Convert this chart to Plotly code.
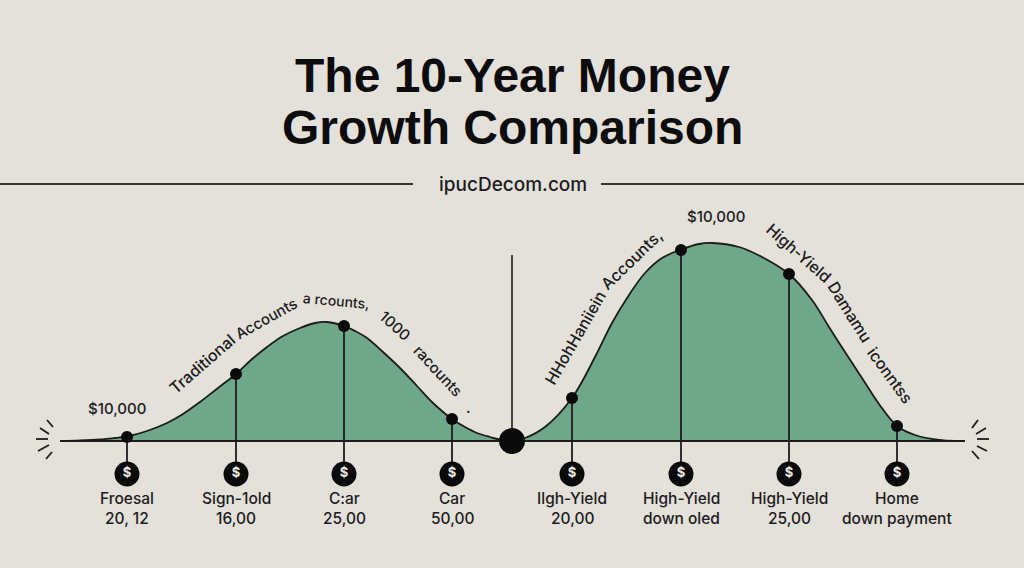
import plotly.graph_objects as go

# ---- data (x in chart units, value = height above the baseline) ----
left_x = [60, 80, 100, 115, 127, 147, 167, 183, 200, 218, 236, 251, 267, 283, 300, 315, 327, 344, 355, 367, 383, 400,
          417, 433, 452, 465, 477, 490, 500, 512]
left_y = [0, 0.5, 1.5, 3, 4.5, 10, 18, 27, 39, 53, 67, 81, 94, 105, 113, 118, 119, 115, 110, 103, 89, 73,
          55, 38, 22, 14, 8, 4, 1.5, 0]
right_x = [512, 525, 545, 572, 595, 612, 629, 645, 662, 680, 699, 712, 739, 762, 789, 812, 829, 845, 862, 879, 897,
           915, 939, 955]
right_y = [0, 3, 14, 43, 84, 118, 146, 168, 183, 191, 197, 198, 194, 184, 167, 141, 114, 89, 63, 37, 15,
           6, 1, 0]

marker_x = [127, 236, 344, 452, 572, 681, 789, 897]
marker_y = [4, 67, 115, 22, 43, 191, 167, 15]
label_top = ["Froesal", "Sign-1old", "C:ar", "Car", "Ilgh-Yield", "High-Yield", "High-Yield", "Home"]
label_bottom = ["20, 12", "16,00", "25,00", "50,00", "20,00", "down oled", "25,00", "down payment"]

title_lines = ["The 10-Year Money", "Growth Comparison"]
subtitle = "ipucDecom.com"
callouts = ["$10,000", "$10,000"]
arc_words = ["Traditional", "Accounts", "a rcounts,", "1000", "racounts", ".",
             "HHohHaniiein", "Accounts,", "High-Yield", "Damamu", "iconntss"]

# ---- layout constants ----
BG, GREEN, INK = "#e4e0da", "#6fa78b", "#1c1c1c"
W, H, BASE = 1024, 568, 441
FONT = "Inter"
TITLE_FONT = "Liberation Sans"
py = lambda p: BASE - p  # page row -> chart units

fig = go.Figure()
for xs, ys in ((left_x, left_y), (right_x, right_y)):
    fig.add_trace(go.Scatter(x=xs, y=ys, mode="lines", fill="tozeroy", fillcolor=GREEN,
                             line=dict(color=INK, width=1.8, shape="spline", smoothing=1.0)))

fig.add_trace(go.Scatter(x=[60, 965], y=[0, 0], mode="lines", line=dict(color=INK, width=2)))

drop_x, drop_y = [], []
for mx, my in zip(marker_x, marker_y):
    drop_x += [mx, mx, None]
    drop_y += [my, py(474), None]
fig.add_trace(go.Scatter(x=drop_x, y=drop_y, mode="lines", line=dict(color=INK, width=1.8)))

fig.add_trace(go.Scatter(x=[512, 512], y=[py(255), 0], mode="lines", line=dict(color=INK, width=1.6)))
fig.add_trace(go.Scatter(x=marker_x, y=marker_y, mode="markers", marker=dict(color="#0a0a0a", size=12)))
fig.add_trace(go.Scatter(x=[512], y=[0], mode="markers", marker=dict(color="#0a0a0a", size=26)))
fig.add_trace(go.Scatter(x=marker_x, y=[py(474)] * len(marker_x), mode="markers+text", text=["$"] * len(marker_x),
                         textposition="middle center",
                         textfont=dict(color="#ece9e4", size=13, family=FONT, weight="bold"),
                         marker=dict(color="#0a0a0a", size=25)))

# rules beside the subtitle
for xs in ((0, 413), (601, 1024)):
    fig.add_trace(go.Scatter(x=list(xs), y=[py(184)] * 2, mode="lines", line=dict(color="#333333", width=2)))

# sparks at both ends
spark_l = [((47, 420), (53, 427)), ((40, 428), (49, 434)), ((36, 439), (48, 439)),
           ((38, 451), (49, 445)), ((46, 459), (52, 452))]
spark_r = [((972, 428), (978, 420)), ((976, 434), (986, 428)), ((977, 439), (989, 439)),
           ((977, 446), (987, 451)), ((972, 451), (979, 459))]
sx, sy = [], []
for a, b in spark_l + spark_r:
    sx += [a[0], b[0], None]
    sy += [py(a[1]), py(b[1]), None]
fig.add_trace(go.Scatter(x=sx, y=sy, mode="lines", line=dict(color=INK, width=1.8)))


def note(x, row, text, size, angle=0, weight=500, color=INK, family=FONT):
    fig.add_annotation(x=x, y=py(row), text=text, showarrow=False, textangle=angle,
                       xanchor="center", yanchor="middle",
                       font=dict(family=family, size=size, color=color, weight=weight))


note(512, 75, title_lines[0], 48, weight=700, color="#0c0c0c", family=TITLE_FONT)
note(512, 127, title_lines[1], 48, weight=700, color="#0c0c0c", family=TITLE_FONT)
note(512.5, 184, subtitle, 19, weight=500)

note(117, 408, callouts[0], 15)
note(716, 216, callouts[1], 15)

for mx, top, bot in zip(marker_x, label_top, label_bottom):
    note(mx, 498, top, 15.5)
    note(mx, 518, bot, 15.5)

arc_places = [(202, 364, -41, 16), (266, 318, -29, 15), (336, 300, 5, 14), (395, 325, 42, 15), (438, 370, 47, 15),
              (468, 407, 0, 15), (575, 338, -60, 16), (631, 260, -44, 16), (799, 253, 41, 16), (850, 312, 58, 16),
              (890, 375, 54, 16)]
for word, (ax, ar, ang, fs) in zip(arc_words, arc_places):
    note(ax, ar, word, fs, ang)

fig.update_layout(
    width=W, height=H, margin=dict(l=0, r=0, t=0, b=0), showlegend=False,
    paper_bgcolor=BG, plot_bgcolor=BG,
    xaxis=dict(range=[0, W], visible=False, fixedrange=True),
    yaxis=dict(range=[BASE - H, BASE], visible=False, fixedrange=True),
)
fig.write_html("out.html", config={"displayModeBar": False},
               post_script="document.body.style.margin='0';document.body.style.background='#e4e0da';")
